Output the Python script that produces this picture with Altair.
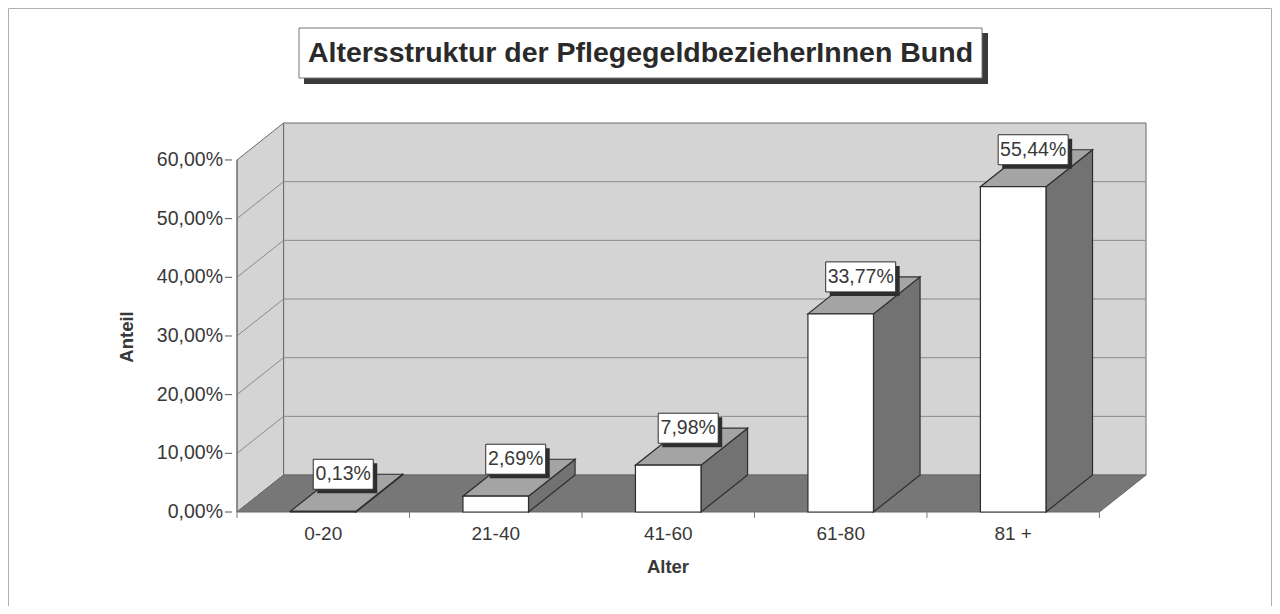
import altair as alt
import pandas as pd

# ---------------- data ----------------
categories = ["0-20", "21-40", "41-60", "61-80", "81 +"]
shares = [0.13, 2.69, 7.98, 33.77, 55.44]          # percent
y_ticks = [0, 10, 20, 30, 40, 50, 60]
title_text = "Altersstruktur der PflegegeldbezieherInnen Bund"
x_title = "Alter"
y_title = "Anteil"

# ---------------- geometry (3D look) ----------------
N = len(categories)
YMAX = y_ticks[-1]
DX = 0.27     # depth shift along x, in category units
DY = 6.3      # depth shift along y, in percent units
HW = 0.19     # half width of bar front face, in category units
PX_CAT = 174.4
PX_PCT = 5.867
W = round((N + DX) * PX_CAT)
H = round((YMAX + DY) * PX_PCT)
PAD = {"left": 224, "top": 115, "right": 1264 - 224 - W, "bottom": 598 - 115 - H}

WALL = "#d4d4d4"
FLOOR = "#777777"
SIDE = "#727272"
TOP = "#a4a4a4"
EDGE = "#2e2e2e"
WEDGE = "#6a6a6a"
GRID = "#8a8a8a"
TXT = "#383838"
FONT = "Liberation Sans"

xs = alt.Scale(domain=[0, N + DX], nice=False, zero=False)
ys = alt.Scale(domain=[0, YMAX + DY], nice=False, zero=False)


def X(f):
    return alt.X(f, type="quantitative", scale=xs, axis=None)


def Y(f):
    return alt.Y(f, type="quantitative", scale=ys, axis=None)


# ---------------- tables ----------------
centers = [i + 0.5 for i in range(N)]
bars = pd.DataFrame({"cat": categories, "v": shares, "c": centers})
bars["xl"] = bars["c"] - HW
bars["xr"] = bars["c"] + HW
bars["vt"] = bars["v"] + DY
bars["lab"] = [("%.2f" % v).replace(".", ",") + "%" for v in shares]
bars["bw"] = [len(s) * 10 + 10 for s in bars["lab"]]
bars["zero"] = 0.0

side_rows, top_rows = [], []
for cat, v, c in zip(categories, shares, centers):
    side_rows.append({"cat": cat, "x": c + HW, "y": v, "y2": 0.0})
    side_rows.append({"cat": cat, "x": c + HW + DX, "y": v + DY, "y2": DY})
    top_rows.append({"cat": cat, "y": v, "x": c - HW, "x2": c + HW})
    top_rows.append({"cat": cat, "y": v + DY, "x": c - HW + DX, "x2": c + HW + DX})
side = pd.DataFrame(side_rows)
top = pd.DataFrame(top_rows)

left_wall = pd.DataFrame({"x": [0, DX], "y": [YMAX, YMAX + DY], "y2": [0, DY]})
floor = pd.DataFrame({"y": [0, DY], "x": [0, DX], "x2": [N, N + DX]})
back_wall = pd.DataFrame({"x": [DX], "x2": [N + DX], "y": [DY], "y2": [YMAX + DY]})
inner = y_ticks[1:-1]
grid_back = pd.DataFrame({"x": [DX] * len(inner), "x2": [N + DX] * len(inner),
                          "y": [v + DY for v in inner]})
grid_left = pd.DataFrame({"x": [0] * len(inner), "x2": [DX] * len(inner),
                          "y": inner, "y2": [v + DY for v in inner]})
front_edge = pd.DataFrame({"x": [0], "y": [0], "y2": [YMAX]})
yt = pd.DataFrame({"v": y_ticks, "zero": [0] * len(y_ticks),
                   "lab": [("%.2f" % v).replace(".", ",") + "%" for v in y_ticks]})
xt = pd.DataFrame({"b": list(range(N + 1))})

# ---------------- layers ----------------
back_layer = alt.Chart(back_wall).mark_rect(fill=WALL, stroke=WEDGE, strokeWidth=1).encode(
    x=X("x"), x2="x2", y=Y("y"), y2="y2")
left_layer = alt.Chart(left_wall).mark_area(orient="vertical", fill=WALL, stroke=WEDGE,
                                            strokeWidth=1).encode(x=X("x"), y=Y("y"), y2="y2")
floor_layer = alt.Chart(floor).mark_area(orient="horizontal", fill=FLOOR, stroke=WEDGE,
                                         strokeWidth=1).encode(y=Y("y"), x=X("x"), x2="x2")
gb_layer = alt.Chart(grid_back).mark_rule(color=GRID, strokeWidth=1).encode(
    x=X("x"), x2="x2", y=Y("y"))
gl_layer = alt.Chart(grid_left).mark_rule(color=GRID, strokeWidth=1).encode(
    x=X("x"), x2="x2", y=Y("y"), y2="y2")
fe_layer = alt.Chart(front_edge).mark_rule(color=WEDGE, strokeWidth=1).encode(
    x=X("x"), y=Y("y"), y2="y2")

# axes drawn by hand
ytick_layer = alt.Chart(yt).mark_rule(color="#555555", strokeWidth=1).encode(
    x=alt.value(-7), x2=alt.value(0), y=Y("v"))
ylab_layer = alt.Chart(yt).mark_text(font=FONT, fontSize=19.5, color=TXT, align="right",
                                     baseline="middle", dx=-14).encode(
    x=X("zero"), y=Y("v"), text="lab:N")
xtick_layer = alt.Chart(xt).mark_rule(color="#777777", strokeWidth=1).encode(
    x=X("b"), y=alt.value(H), y2=alt.value(H + 6))

side_layer = alt.Chart(side).mark_area(orient="vertical", fill=SIDE, stroke=EDGE,
                                       strokeWidth=1.2).encode(
    x=X("x"), y=Y("y"), y2="y2", detail="cat:N")
top_layer = alt.Chart(top).mark_area(orient="horizontal", fill=TOP, stroke=EDGE,
                                     strokeWidth=1.2).encode(
    y=Y("y"), x=X("x"), x2="x2", detail="cat:N")
front_layer = alt.Chart(bars).mark_rect(fill="white", stroke=EDGE, strokeWidth=1.2).encode(
    x=X("xl"), x2="xr", y=Y("zero"), y2="v")

lab_shadow = alt.Chart(bars).mark_bar(fill="#2e2e2e", xOffset=24, yOffset=-11,
                                      y2Offset=19).encode(
    x=X("c"), y=Y("vt"), y2="vt", size=alt.Size("bw:Q", scale=None, legend=None))
lab_box = alt.Chart(bars).mark_bar(fill="white", stroke=EDGE, strokeWidth=1, xOffset=20,
                                   yOffset=-15, y2Offset=15).encode(
    x=X("c"), y=Y("vt"), y2="vt", size=alt.Size("bw:Q", scale=None, legend=None))
lab_text = alt.Chart(bars).mark_text(font=FONT, fontSize=19.5, color=TXT, dx=20,
                                     baseline="middle", align="center").encode(
    x=X("c"), y=Y("vt"), text="lab:N")
cat_text = alt.Chart(bars).mark_text(font=FONT, fontSize=19, color=TXT, dy=22,
                                     baseline="middle", align="center").encode(
    x=X("c"), y=Y("zero"), text="cat:N")

tdata = alt.Data(values=[{"t": title_text, "xt": x_title, "yt": y_title}])
x_title_layer = alt.Chart(tdata).mark_text(font=FONT, fontSize=18.5, fontWeight="bold",
                                           color=TXT, align="center", baseline="middle").encode(
    x=alt.value(N * PX_CAT / 2), y=alt.value(H + 55), text="xt:N")
y_title_layer = alt.Chart(tdata).mark_text(font=FONT, fontSize=18.5, fontWeight="bold",
                                           color=TXT, align="center", baseline="middle",
                                           angle=270).encode(
    x=alt.value(-105), y=alt.value(214), text="yt:N")
title_shadow = alt.Chart(tdata).mark_rect(fill="#3a3a3a").encode(
    x=alt.value(72), x2=alt.value(756), y=alt.value(-90), y2=alt.value(-39))
title_box = alt.Chart(tdata).mark_rect(fill="white", stroke="#777777", strokeWidth=1).encode(
    x=alt.value(67), x2=alt.value(750), y=alt.value(-95), y2=alt.value(-45))
title_txt = alt.Chart(tdata).mark_text(font=FONT, fontSize=28.5, fontWeight="bold",
                                       color="#2a2a2a", align="center",
                                       baseline="middle").encode(
    x=alt.value(408.5), y=alt.value(-70), text="t:N")
frame = alt.Chart(tdata).mark_rect(fill="transparent", stroke="#b0b0b0", strokeWidth=1).encode(
    x=alt.value(-223.5), x2=alt.value(W + PAD["right"] - 0.5),
    y=alt.value(-114.5), y2=alt.value(H + PAD["bottom"] + 10))

chart = alt.layer(
    back_layer, left_layer, floor_layer, gb_layer, gl_layer, fe_layer,
    ytick_layer, ylab_layer, xtick_layer,
    side_layer, top_layer, front_layer,
    lab_shadow, lab_box, lab_text, cat_text,
    x_title_layer, y_title_layer,
    title_shadow, title_box, title_txt, frame,
).properties(
    width=W, height=H, padding=PAD, autosize=alt.AutoSizeParams(type="none"),
    background="white",
).configure_view(stroke=None)

chart.save("out.html", embed_options={"renderer": "svg", "actions": False})
